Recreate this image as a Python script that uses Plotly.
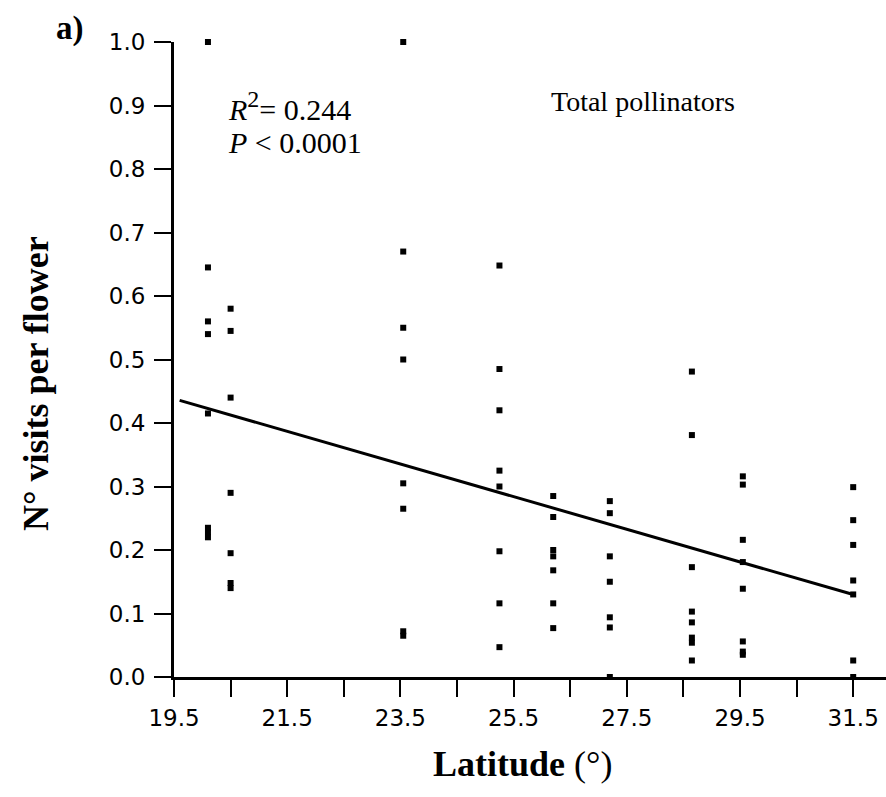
import plotly.graph_objects as go

# Flower visitation by latitude: one list of per-flower visit rates per site
site_lat = [20.1, 20.5, 23.55, 25.25, 26.2, 27.2, 28.65, 29.55, 31.5]
visits_20_1 = [1.0, 0.645, 0.56, 0.54, 0.415, 0.235, 0.228, 0.22]
visits_20_5 = [0.58, 0.545, 0.44, 0.29, 0.195, 0.148, 0.14]
visits_23_55 = [1.0, 0.67, 0.55, 0.5, 0.305, 0.265, 0.072, 0.065]
visits_25_25 = [0.648, 0.485, 0.42, 0.325, 0.30, 0.198, 0.116, 0.047]
visits_26_2 = [0.285, 0.252, 0.2, 0.19, 0.168, 0.116, 0.077]
visits_27_2 = [0.277, 0.258, 0.19, 0.15, 0.094, 0.078, 0.0]
visits_28_65 = [0.481, 0.381, 0.173, 0.103, 0.086, 0.062, 0.054, 0.026]
visits_29_55 = [0.316, 0.303, 0.216, 0.181, 0.139, 0.056, 0.04, 0.035]
visits_31_5 = [0.299, 0.247, 0.208, 0.152, 0.13, 0.026, 0.0]

site_visits = [visits_20_1, visits_20_5, visits_23_55, visits_25_25, visits_26_2,
               visits_27_2, visits_28_65, visits_29_55, visits_31_5]

# Least-squares fit reported on the panel
fit_intercept = 0.9394
fit_slope = -0.0257
fit_lat = [19.6, 31.5]

x_label_ticks = [19.5, 21.5, 23.5, 25.5, 27.5, 29.5, 31.5]
x_minor_ticks = [20.5, 22.5, 24.5, 26.5, 28.5, 30.5]
y_tickvals = [0.0, 0.1, 0.2, 0.3, 0.4, 0.5, 0.6, 0.7, 0.8, 0.9, 1.0]

pts_x, pts_y = [], []
for lat, vals in zip(site_lat, site_visits):
    pts_x += [lat] * len(vals)
    pts_y += vals

fig = go.Figure()
fig.add_trace(go.Scatter(
    x=fit_lat, y=[fit_intercept + fit_slope * v for v in fit_lat],
    mode="lines", line=dict(color="black", width=3),
    hoverinfo="skip", showlegend=False,
))
fig.add_trace(go.Scatter(
    x=pts_x, y=pts_y, mode="markers",
    marker=dict(symbol="square", size=6, color="black", line=dict(width=0)),
    cliponaxis=False, showlegend=False,
))

W, H = 886, 797
L, R, T, B = 174, 0, 42, 120
pw, ph = W - L - R, H - T - B


def px_x(p):
    return (p - L) / pw


def px_y(p):
    return (H - B - p) / ph


tick_font = dict(family="DejaVu Sans", size=23, color="black")
fig.update_layout(
    width=W, height=H,
    margin=dict(l=L, r=R, t=T, b=B, pad=0),
    paper_bgcolor="white", plot_bgcolor="white",
    xaxis=dict(
        range=[19.5, 19.5 + pw / 56.6], showgrid=False, zeroline=False,
        showline=True, linecolor="black", linewidth=3,
        ticks="outside", ticklen=17, tickwidth=2, tickcolor="black",
        tickvals=x_label_ticks, tickformat=".1f", tickfont=tick_font,
        ticklabelstandoff=1,
        minor=dict(tickvals=x_minor_ticks, ticks="outside", ticklen=17,
                   tickwidth=2, tickcolor="black", showgrid=False),
    ),
    yaxis=dict(
        range=[0, 1.0], showgrid=False, zeroline=False,
        showline=True, linecolor="black", linewidth=3,
        ticks="outside", ticklen=17, tickwidth=2, tickcolor="black",
        tickvals=y_tickvals, tickformat=".1f", tickfont=tick_font,
        ticklabelstandoff=4,
    ),
    annotations=[
        dict(text="<b>a)</b>", x=px_x(70), y=px_y(28), xref="paper", yref="paper",
             showarrow=False, xanchor="center", yanchor="middle",
             font=dict(family="Liberation Serif", size=33, color="black")),
        dict(text="<i>R</i><sup><span style='font-size:24px'>2</span></sup>= 0.244",
             x=px_x(226), y=px_y(106),
             xref="paper", yref="paper", showarrow=False,
             xanchor="left", yanchor="middle",
             font=dict(family="Liberation Serif", size=30, color="black")),
        dict(text="<i>P</i> &lt; 0.0001", x=px_x(226), y=px_y(142),
             xref="paper", yref="paper", showarrow=False,
             xanchor="left", yanchor="middle",
             font=dict(family="Liberation Serif", size=30, color="black")),
        dict(text="Total pollinators", x=px_x(643), y=px_y(101),
             xref="paper", yref="paper", showarrow=False,
             xanchor="center", yanchor="middle",
             font=dict(family="Liberation Serif", size=28, color="black")),
        dict(text="<b>Latitude</b> (°)", x=px_x(522), y=px_y(764),
             xref="paper", yref="paper", showarrow=False,
             xanchor="center", yanchor="middle",
             font=dict(family="Liberation Serif", size=36, color="black")),
        dict(text="<b>N° visits per flower</b>", x=px_x(36), y=px_y(384),
             xref="paper", yref="paper", showarrow=False, textangle=-90,
             xanchor="center", yanchor="middle",
             font=dict(family="Liberation Serif", size=36, color="black")),
    ],
)

fig.write_html("out.html")
